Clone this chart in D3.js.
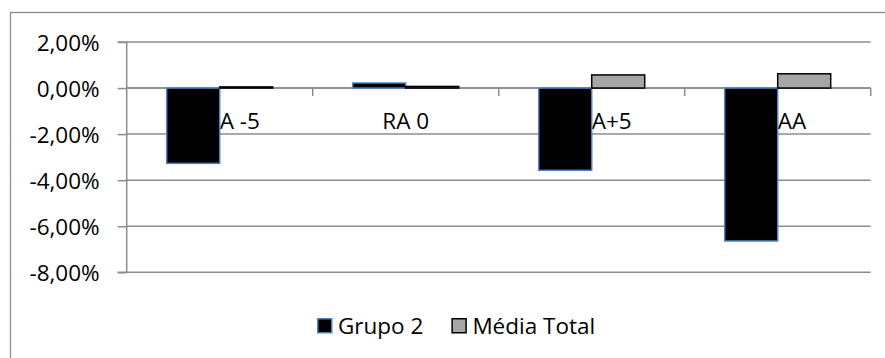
<!DOCTYPE html>
<html>
<head>
<meta charset="utf-8">
<script src="https://cdn.jsdelivr.net/npm/d3@7"></script>
<style>
  html, body { margin: 0; padding: 0; background: #fff; }
  svg { display: block; }
  text { font-family: "Open Sans", sans-serif; fill: #000; }
</style>
</head>
<body>
<svg id="chart" width="885" height="358"></svg>
<script>
// Category labels along the horizontal axis
const categories = ["RA -5", "RA 0", "RA+5", "AA"];
// Series names (legend order)
const seriesNames = ["Grupo 2", "Média Total"];
// Values in percent
const grupo2 = [-3.27, 0.22, -3.57, -6.64];
const mediaTotal = [0.05, 0.07, 0.57, 0.62];
// Value-axis tick values (percent)
const yTicks = [2, 0, -2, -4, -6, -8];

const seriesValues = [grupo2, mediaTotal];
const fills = ["#000000", "#a6a6a6"];
const strokes = ["#4f81bd", "#000000"];

const svg = d3.select("#chart");
const W = 885, H = 358;
const plot = { left: 126.7, right: 870.7, top: 42, bottom: 272.3 };
const gridColor = "#8c8c8c";
const fontSize = 22.5;

// Outer chart border
svg.append("rect")
  .attr("x", 10.5).attr("y", 12.5)
  .attr("width", W).attr("height", H)
  .attr("fill", "none").attr("stroke", gridColor).attr("stroke-width", 1.3);

const y = d3.scaleLinear().domain([-8, 2]).range([plot.bottom, plot.top]);
const x0 = d3.scaleBand().domain(categories).range([plot.left, plot.right]).padding(0);
const barW = 53;
const x1 = d3.scaleBand().domain(seriesNames).range([0, barW * 2]).padding(0);
const groupOffset = (x0.bandwidth() - barW * 2) / 2;

// Percent with comma decimal separator and a plain hyphen for negatives
const fmt = v => d3.format(".2f")(v).replace(".", ",").replace("\u2212", "-") + "%";

// Horizontal gridlines
svg.append("g")
  .selectAll("line").data(yTicks).join("line")
  .attr("x1", plot.left).attr("x2", plot.right)
  .attr("y1", d => y(d)).attr("y2", d => y(d))
  .attr("stroke", gridColor).attr("stroke-width", 1.5);

// Value axis
const yAxis = d3.axisLeft(y).tickValues(yTicks).tickSize(9).tickPadding(18).tickFormat(fmt);
const gy = svg.append("g").attr("transform", `translate(${plot.left},0)`).call(yAxis);
gy.select(".domain").attr("stroke", gridColor).attr("stroke-width", 1.5).attr("d", `M-9,${plot.top}H0V${plot.bottom}H-9`);
gy.selectAll(".tick line").attr("stroke", gridColor).attr("stroke-width", 1.5);
gy.selectAll(".tick text")
  .style("font-family", "'Open Sans', sans-serif")
  .style("font-size", fontSize + "px").attr("fill", "#000").attr("dy", "0.36em");

// Category axis on the zero line; labels sit under the bars
const xAxis = d3.axisBottom(x0).tickSize(0).tickPadding(25);
const gx = svg.append("g").attr("transform", `translate(0,${y(0)})`).call(xAxis);
gx.select(".domain").remove();
gx.selectAll(".tick text")
  .style("font-family", "'Open Sans', sans-serif")
  .style("font-size", fontSize + "px").attr("fill", "#000");
// Where the first bar hangs below zero, the label starts at the bar's right
// edge (the category centre) and its leading "R" tucks under the bar.
gx.selectAll(".tick text").each(function (d, i) {
  if (grupo2[i] < 0) {
    const lead = d.startsWith("R") ? this.getSubStringLength(0, 1) : 0;
    d3.select(this).attr("text-anchor", "start").attr("x", -lead);
  }
});
svg.append("line")
  .attr("x1", plot.left).attr("x2", plot.right)
  .attr("y1", y(0)).attr("y2", y(0))
  .attr("stroke", gridColor).attr("stroke-width", 1.5);
// Category boundary ticks
const bounds = categories.map(c => x0(c)).concat([plot.right]).slice(1);
svg.append("g").selectAll("line").data(bounds).join("line")
  .attr("x1", d => d).attr("x2", d => d)
  .attr("y1", y(0)).attr("y2", y(0) + 8)
  .attr("stroke", gridColor).attr("stroke-width", 1.5);

// Bars
const rows = categories.map((c, i) => ({ c, vals: seriesNames.map((s, j) => ({ s, j, v: seriesValues[j][i] })) }));
svg.append("g").selectAll("g").data(rows).join("g")
  .attr("transform", d => `translate(${x0(d.c) + groupOffset},0)`)
  .selectAll("rect").data(d => d.vals).join("rect")
  .attr("x", d => x1(d.s))
  .attr("width", x1.bandwidth())
  .attr("y", d => Math.min(y(d.v), y(0)))
  .attr("height", d => Math.abs(y(d.v) - y(0)))
  .attr("fill", d => fills[d.j])
  .attr("stroke", d => strokes[d.j])
  .attr("stroke-width", 1.5);

// Legend
const legend = svg.append("g");
let lx = 317;
seriesNames.forEach((s, j) => {
  legend.append("rect")
    .attr("x", lx + 0.75).attr("y", 318.75).attr("width", 14).attr("height", 14)
    .attr("fill", fills[j]).attr("stroke", strokes[j]).attr("stroke-width", 1.5);
  const t = legend.append("text")
    .attr("x", lx + 21).attr("y", 334)
    .style("font-size", fontSize + "px")
    .text(s);
  lx += 21 + t.node().getComputedTextLength() + 28;
});
</script>
</body>
</html>
